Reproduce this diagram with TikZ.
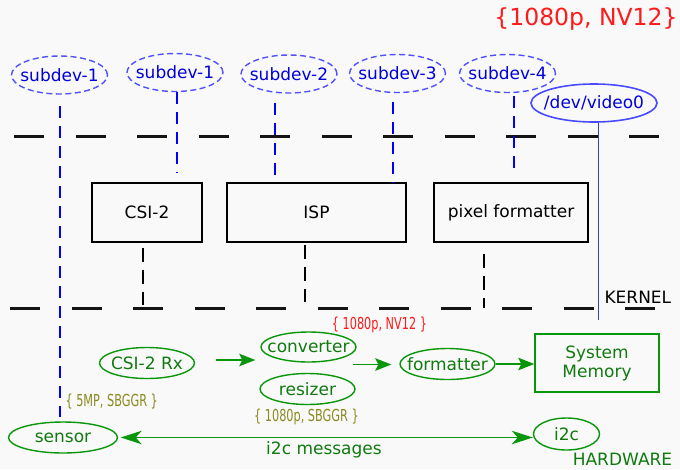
\documentclass[tikz,border=0pt]{standalone}
\usepackage{fontspec}
\setmainfont{DejaVu Sans}
\newfontfamily\narrowfont[FakeStretch=0.76]{DejaVu Sans Condensed}
\usetikzlibrary{shapes.geometric,arrows.meta}

\definecolor{bgc}{HTML}{F9F9F9}
\definecolor{subblue}{HTML}{5050FF}
\definecolor{txtblue}{HTML}{0000DD}
\definecolor{linkblue}{HTML}{0000FF}
\definecolor{vidblue}{HTML}{4A4AFF}
\definecolor{hwgreen}{HTML}{0A960A}
\definecolor{hwtext}{HTML}{107A10}
\definecolor{fmtolive}{HTML}{8A8A20}
\definecolor{fmtred}{HTML}{FF1A1A}

% centre a label without letting its width grow the shape
\newcommand\zerowd[1]{\makebox[0pt]{#1}}

\tikzset{
  lbl/.style={font=\fontsize{17}{19}\selectfont},
  subdev/.style={lbl, ellipse, draw=subblue, line width=1.4pt,
    dash pattern=on 6pt off 3.5pt, text=txtblue, inner sep=0pt,
    minimum width=96pt, minimum height=38pt},
  vidnode/.style={lbl, ellipse, draw=vidblue, line width=1.6pt,
    text=txtblue, inner sep=0pt, minimum width=126pt, minimum height=38pt},
  block/.style={lbl, rectangle, draw=black, line width=1.2pt, inner sep=0pt,
    minimum height=59pt},
  hwnode/.style={lbl, ellipse, draw=hwgreen, line width=1.4pt, text=hwtext,
    inner sep=0pt, minimum width=95pt, minimum height=31pt},
  hwbox/.style={lbl, rectangle, draw=hwgreen, line width=1.4pt, text=hwtext,
    inner sep=0pt, align=center},
  link/.style={linkblue, line width=2pt, dash pattern=on 12pt off 8pt},
  tap/.style={black, line width=1.5pt, dash pattern=on 14pt off 8pt},
  layer/.style={black!92, line width=3pt, dash pattern=on 30pt off 31.5pt},
  flowtip/.tip={Stealth[length=16pt,width=12.5pt,inset=3pt]},
  msgtip/.tip={Stealth[length=21pt,width=13.5pt,inset=6pt]},
  flow/.style={hwgreen, line width=1.4pt, -flowtip},
  fmt/.style={font=\narrowfont\fontsize{16.5}{19}\selectfont},
}

\begin{document}
\begin{tikzpicture}[x=1pt,y=-1pt]
  \useasboundingbox (0,0) rectangle (680,469);
  \fill[bgc] (0,0) rectangle (680,469);

  % layer separators
  \coordinate (k1l) at (14,136);
  \coordinate (k1r) at (660,136);
  \coordinate (k2l) at (10,308);
  \coordinate (k2r) at (656,308);
  \draw[layer] (k1l) -- (k1r);
  \draw[layer] (k2l) -- (k2r);

  % output format
  \node[text=fmtred, font=\fontsize{23.5}{28}\selectfont] (outfmt) at (586,19) {\{1080p, NV12\}};

  % sub-device nodes
  \node[subdev] (sd1a) at (59.5,75)   {\zerowd{subdev-1}};
  \node[subdev] (sd1b) at (175,72.5)  {\zerowd{subdev-1}};
  \node[subdev] (sd2)  at (289,74)    {\zerowd{subdev-2}};
  \node[subdev] (sd3)  at (397.5,73.5){\zerowd{subdev-3}};
  \node[subdev] (sd4)  at (507.5,73.5){\zerowd{subdev-4}};
  \node[vidnode] (vid) at (594,103)   {\zerowd{/dev/video0}};

  % kernel drivers
  \node[block, minimum width=110pt] (csi) at (147,212.5)   {CSI-2};
  \node[block, minimum width=179pt] (isp) at (316.5,212.5) {ISP};
  \node[block, minimum width=154pt] (pix) at (511,212.5)   {pixel formatter};

  \node[lbl, anchor=west] (kernel) at (601,297) {KERNEL};

  % hardware blocks
  \node[hwnode] (csirx)     at (147,363)   {\zerowd{CSI-2 Rx}};
  \node[hwnode, minimum height=30pt] (converter) at (308.5,347) {\zerowd{converter}};
  \node[hwnode] (resizer)   at (307.5,389) {\zerowd{resizer}};
  \node[hwnode] (formatter) at (447.5,364) {\zerowd{formatter}};
  \node[hwbox, minimum width=124pt, minimum height=58pt] (mem) at (597,363) {System\\Memory};
  \node[hwnode, minimum width=109pt] (sensor) at (63,437.5) {\zerowd{sensor}};
  \node[hwnode, minimum width=66pt, minimum height=32pt] (i2c) at (566.5,434) {\zerowd{i2c}};

  \node[lbl, text=hwtext, anchor=base, text depth=0pt, inner ysep=0pt] (hw) at (622.5,465.5) {HARDWARE};
  \node[lbl, text=hwtext] (i2cmsg) at (324,450) {i2c messages};

  % format labels
  \node[fmt, text=fmtolive, anchor=west] (snsfmt) at (62,402) {\{ 5MP, SBGGR \}};
  \node[fmt, text=fmtolive] (rszfmt) at (306.5,417) {\{ 1080p, SBGGR \}};
  \node[fmt, text=fmtred] (cnvfmt) at (379.5,325) {\{ 1080p, NV12 \}};

  % sub-device links
  \draw[link, shorten <=11pt, shorten >=4pt] (sd1a.south) -- (sd1a.south |- sensor.north);
  \draw[link, shorten >=10pt] ([xshift=2pt]sd1b.south) -- ([xshift=2pt]sd1b.south |- csi.north);
  \draw[link, shorten <=9pt] ([xshift=-14.5pt]sd2.south) -- ([xshift=-14.5pt]sd2.south |- isp.north);
  \draw[link, shorten <=9pt] ([xshift=-5pt]sd3.south) -- ([xshift=-5pt]sd3.south |- isp.north);
  \draw[link, shorten <=3pt, shorten >=11pt] ([xshift=6.5pt]sd4.south) -- ([xshift=6.5pt]sd4.south |- pix.north);

  % video node link
  \coordinate (vidend) at (598.5,320);
  \draw[vidblue!80!black, line width=1pt] (vid.south -| vidend) -- (vidend);

  % driver to hardware taps
  \draw[tap, shorten <=5pt, shorten >=3pt] ([xshift=-4pt]csi.south) -- ([xshift=-4pt]csi.south |- k2l);
  \draw[tap, shorten <=2pt, shorten >=6pt] ([xshift=-11.5pt]isp.south) -- ([xshift=-11.5pt]isp.south |- k2l);
  \draw[tap, shorten <=11pt] ([xshift=-27pt]pix.south) -- ([xshift=-27pt]pix.south |- k2l);

  % data flow
  \draw[flow, shorten <=21pt, shorten >=5pt] (csirx.east |- 0,360) -- (converter.west |- 0,360);
  \draw[flow, shorten <=-4pt, shorten >=8pt] (converter.east |- 0,364.5) -- (formatter.west |- 0,364.5);
  \draw[flow] (formatter.east) -- (mem.west |- formatter.east);
  \draw[hwgreen, line width=1.3pt, msgtip-msgtip, shorten <=2.5pt]
    (sensor.east) -- (sensor.east -| i2c.west);
\end{tikzpicture}
\end{document}
